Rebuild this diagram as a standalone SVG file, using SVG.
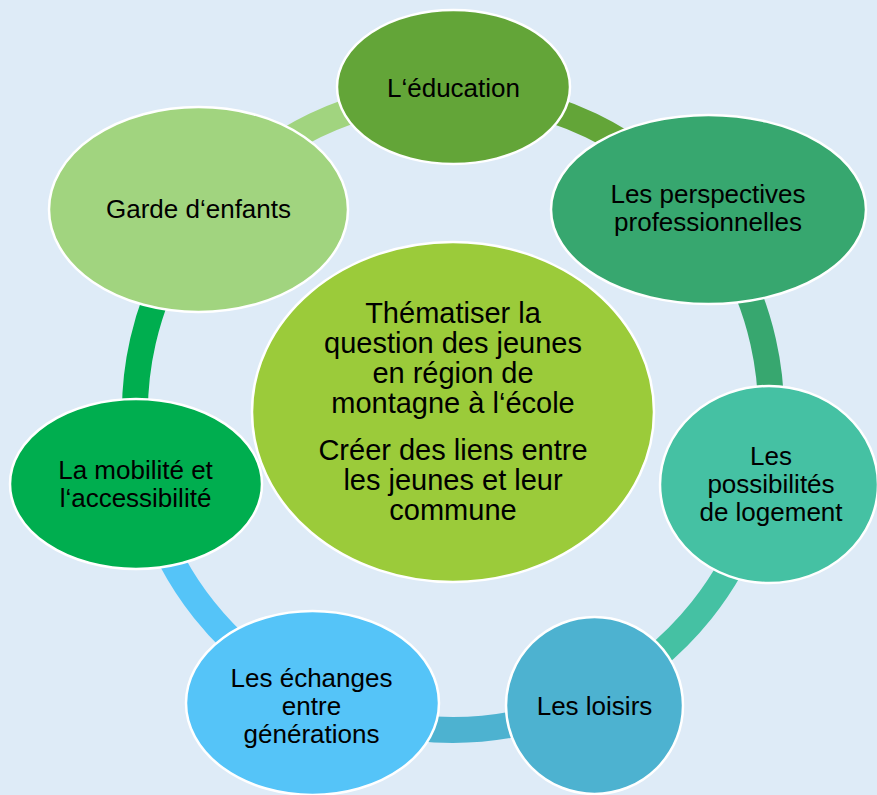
<svg xmlns="http://www.w3.org/2000/svg" width="877" height="795" viewBox="0 0 877 795">
<style>
.bg{fill:#deebf7}
.seg{fill:none;stroke-width:26}
.node{stroke:#ffffff;stroke-width:2.5}
text{font-family:"Liberation Sans",Arial,sans-serif;fill:#000000;text-anchor:middle}
.t{font-size:26px}
.c{font-size:29px}
</style>
<rect class="bg" x="0" y="0" width="877" height="795"/>
<g id="connectors">
<path class="seg" stroke="#63a538" d="M453,94 A318,318 0 0 1 701.9,214"/>
<path class="seg" stroke="#37a76f" d="M701.9,214 A318,318 0 0 1 763,483"/>
<path class="seg" stroke="#45c1a3" d="M763,483 A318,318 0 0 1 590.9,698.5"/>
<path class="seg" stroke="#4db2d0" d="M590.9,698.5 A318,318 0 0 1 314.6,698.3"/>
<path class="seg" stroke="#55c4f8" d="M314.6,698.3 A318,318 0 0 1 142.9,482.4"/>
<path class="seg" stroke="#00ae4f" d="M142.9,482.4 A318,318 0 0 1 204.1,214"/>
<path class="seg" stroke="#a1d47f" d="M204.1,214 A318,318 0 0 1 453,94"/>
</g>
<g id="center">
<ellipse class="node" cx="453" cy="412" rx="201" ry="170" fill="#9bcb3a"/>
<text class="c" x="453" y="323">Thématiser la</text>
<text class="c" x="453" y="353">question des jeunes</text>
<text class="c" x="453" y="383">en région de</text>
<text class="c" x="453" y="413">montagne à l‘école</text>
<text class="c" x="453" y="460">Créer des liens entre</text>
<text class="c" x="453" y="490">les jeunes et leur</text>
<text class="c" x="453" y="520">commune</text>
</g>
<g id="education">
<ellipse class="node" cx="453.5" cy="87" rx="116.5" ry="77" fill="#63a538"/>
<text class="t" x="453.5" y="97">L‘éducation</text>
</g>
<g id="perspectives">
<ellipse class="node" cx="708.5" cy="209.5" rx="157.5" ry="94.5" fill="#37a76f"/>
<text class="t" x="708" y="203">Les perspectives</text>
<text class="t" x="708" y="231">professionnelles</text>
</g>
<g id="logement">
<ellipse class="node" cx="769" cy="484.5" rx="109" ry="98.5" fill="#45c1a3"/>
<text class="t" x="771" y="465">Les</text>
<text class="t" x="771" y="493">possibilités</text>
<text class="t" x="771" y="521">de logement</text>
</g>
<g id="loisirs">
<ellipse class="node" cx="594.5" cy="705.5" rx="88.5" ry="88.5" fill="#4db2d0"/>
<text class="t" x="594.5" y="715">Les loisirs</text>
</g>
<g id="echanges">
<ellipse class="node" cx="312.5" cy="703" rx="126.5" ry="92" fill="#55c4f8"/>
<text class="t" x="311.5" y="687">Les échanges</text>
<text class="t" x="311.5" y="715">entre</text>
<text class="t" x="311.5" y="743">générations</text>
</g>
<g id="mobilite">
<ellipse class="node" cx="136" cy="484" rx="126" ry="85" fill="#00ae4f"/>
<text class="t" x="135.5" y="479">La mobilité et</text>
<text class="t" x="135.5" y="507">l‘accessibilité</text>
</g>
<g id="garde">
<ellipse class="node" cx="198.5" cy="209.5" rx="149.5" ry="102.5" fill="#a1d47f"/>
<text class="t" x="198.5" y="218">Garde d‘enfants</text>
</g>
</svg>
